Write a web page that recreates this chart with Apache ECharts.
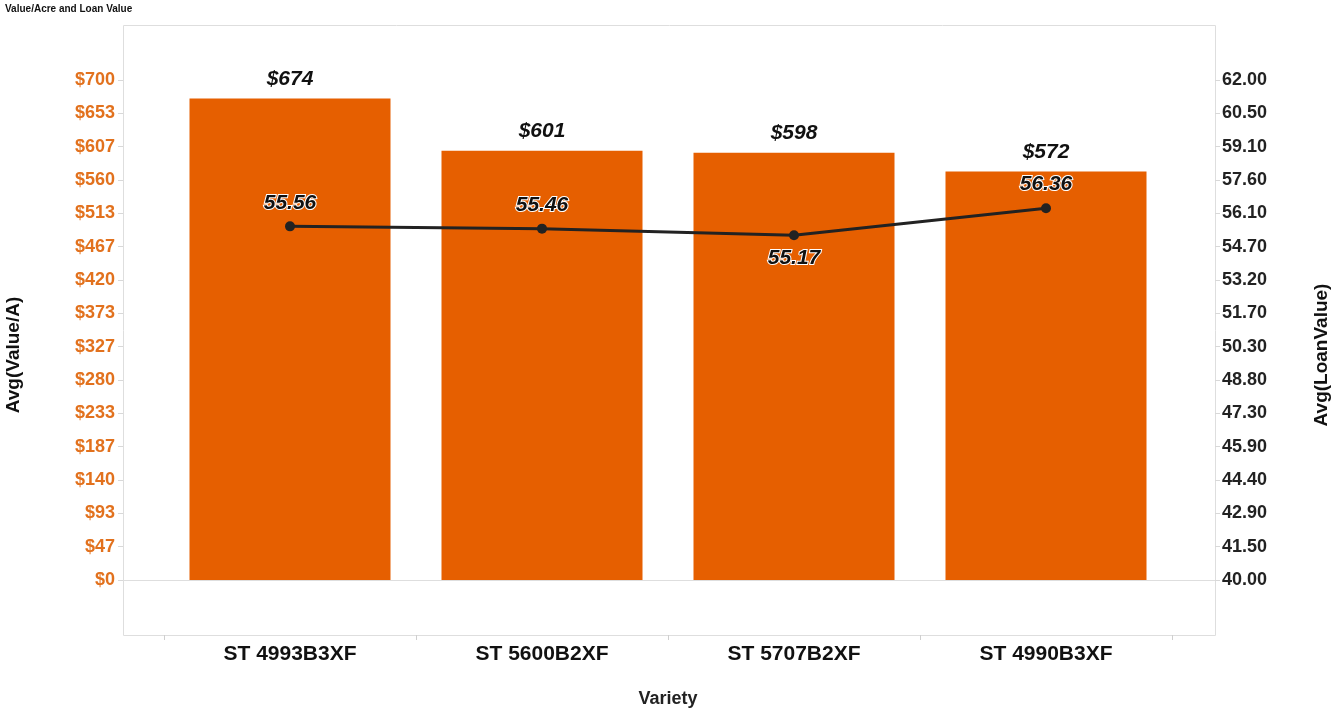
<!DOCTYPE html>
<html>
<head>
    <meta charset="utf-8">
    <title>Value/Acre and Loan Value</title>
    <script src="https://cdn.jsdelivr.net/npm/echarts@6/dist/echarts.min.js"></script>
    <style>
        html, body { margin: 0; padding: 0; background: #fff; }
    </style>
</head>
<body>
<div id="main" style="width: 1331px;height:713px;"></div>
<script type="text/javascript">
    // data
    var varieties = ['ST 4993B3XF', 'ST 5600B2XF', 'ST 5707B2XF', 'ST 4990B3XF'];
    var valuePerAcre = [674, 601, 598, 572];
    var loanValue = [55.56, 55.46, 55.17, 56.36];
    // line label side: above or below the point
    var loanLabelPos = ['top', 'top', 'bottom', 'top'];

    var FONT = 'Liberation Sans, Arial, sans-serif';
    var ORANGE = '#e65f00';

    // frame box and plot area (pixels)
    var frame = {x: 123, y: 25, w: 1092, h: 610};
    var plot = {left: 164, right: 1172, top: 80, bottom: 580};

    var myChart = echarts.init(document.getElementById('main'));

    var lineData = loanValue.map(function (v, i) {
        return {
            value: v,
            label: {position: loanLabelPos[i], distance: loanLabelPos[i] === 'top' ? 8 : 7}
        };
    });

    option = {
        animation: false,
        backgroundColor: '#fff',
        grid: {
            left: plot.left,
            right: 1331 - plot.right,
            top: plot.top,
            bottom: 713 - plot.bottom
        },
        graphic: [
            {
                type: 'rect', silent: true, z: -1,
                shape: {x: frame.x + 0.5, y: frame.y + 0.5, width: frame.w, height: frame.h},
                style: {fill: 'none', stroke: '#dedede', lineWidth: 1}
            },
            {
                type: 'line', silent: true, z: -1,
                shape: {x1: frame.x, y1: plot.bottom + 0.5, x2: frame.x + frame.w, y2: plot.bottom + 0.5},
                style: {stroke: '#dedede', lineWidth: 1}
            },
            {
                type: 'text', left: 5, top: 4,
                style: {text: 'Value/Acre and Loan Value', font: 'bold 10px ' + FONT, fill: '#111'}
            },
            {
                type: 'text', x: 14, y: 355, rotation: Math.PI / 2,
                style: {text: 'Avg(Value/A)', font: 'bold 19px ' + FONT, fill: '#111',
                    align: 'center', verticalAlign: 'middle'}
            },
            {
                type: 'text', x: 1322, y: 355, rotation: Math.PI / 2,
                style: {text: 'Avg(LoanValue)', font: 'bold 19px ' + FONT, fill: '#111',
                    align: 'center', verticalAlign: 'middle'}
            },
            {
                type: 'text', x: (plot.left + plot.right) / 2, y: 699,
                style: {text: 'Variety', font: 'bold 18px ' + FONT, fill: '#222',
                    align: 'center', verticalAlign: 'middle'}
            }
        ],
        xAxis: [
            {
                type: 'category',
                data: varieties,
                offset: frame.y + frame.h - plot.bottom,
                axisLine: {show: true, onZero: false, lineStyle: {color: '#dedede'}},
                axisTick: {show: true, length: 5, lineStyle: {color: '#cfcfcf'}},
                axisLabel: {
                    margin: 9,
                    color: '#111',
                    fontFamily: FONT,
                    fontWeight: 'bold',
                    fontSize: 21
                },
                splitLine: {show: false}
            }
        ],
        yAxis: [
            {
                type: 'value',
                min: 0,
                max: 700,
                interval: 700 / 15,
                offset: plot.left - frame.x,
                axisLine: {show: false},
                axisTick: {show: true, length: 5, lineStyle: {color: '#d8d8d8'}},
                splitLine: {show: false},
                axisLabel: {
                    margin: 8,
                    color: '#e2711d',
                    fontFamily: FONT,
                    fontWeight: 'bold',
                    fontSize: 18,
                    formatter: function (v) { return '$' + Math.round(v); }
                }
            },
            {
                type: 'value',
                min: 40,
                max: 62,
                interval: 22 / 15,
                offset: frame.x + frame.w - plot.right,
                axisLine: {show: false},
                axisTick: {show: true, length: 5, lineStyle: {color: '#d8d8d8'}},
                splitLine: {show: false},
                axisLabel: {
                    margin: 7,
                    color: '#222',
                    fontFamily: FONT,
                    fontWeight: 'bold',
                    fontSize: 18,
                    formatter: function (v) { return v.toFixed(1) + '0'; }
                }
            }
        ],
        series: [
            {
                name: 'Avg(Value/A)',
                type: 'bar',
                yAxisIndex: 0,
                data: valuePerAcre,
                barWidth: 201,
                itemStyle: {color: ORANGE},
                label: {
                    show: true,
                    position: 'top',
                    distance: 9,
                    color: '#111',
                    fontFamily: FONT,
                    fontWeight: 'bold',
                    fontStyle: 'italic',
                    fontSize: 21,
                    formatter: function (p) { return '$' + p.value; }
                }
            },
            {
                name: 'Avg(LoanValue)',
                type: 'line',
                yAxisIndex: 1,
                data: lineData,
                symbol: 'circle',
                symbolSize: 10,
                lineStyle: {color: '#222', width: 3},
                itemStyle: {color: '#222'},
                z: 5,
                label: {
                    show: true,
                    color: '#111',
                    fontFamily: FONT,
                    fontWeight: 'bold',
                    fontStyle: 'italic',
                    fontSize: 21,
                    textBorderColor: '#fff',
                    textBorderWidth: 2,
                    formatter: function (p) { return p.value.toFixed(2); }
                }
            }
        ]
    };
    myChart.setOption(option);
</script>
</body>
</html>
